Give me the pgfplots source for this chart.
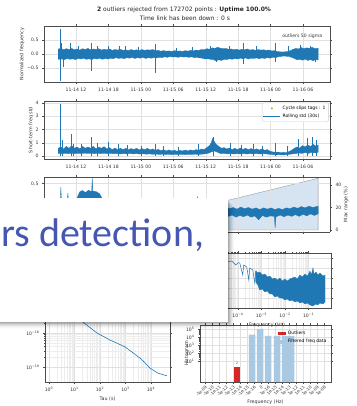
\documentclass[border=0pt]{standalone}
\usepackage{pgfplots}
\pgfplotsset{compat=1.18}
\usepackage{fontspec}
\setmainfont{DejaVu Sans}
\newfontfamily\calibri{Carlito}
\definecolor{tabblue}{HTML}{1F77B4}
\definecolor{tabred}{HTML}{D62728}
\definecolor{tabolive}{HTML}{BCBD22}
\definecolor{ltblue}{HTML}{A9C9E2}
\definecolor{fillblue}{HTML}{D5E4F0}
\definecolor{slideblue}{HTML}{4557B3}
\pgfplotsset{
  mpl/.style={scale only axis, axis line style={black!70, line width=0.4pt},
    tick style={black!70, line width=0.4pt}, tick align=outside,
    major tick length=2pt, minor tick length=1pt,
    grid style={black!12, line width=0.3pt},
    minor grid style={black!7, line width=0.25pt},
    ticklabel style={font=\fontsize{4.6}{5}\selectfont, text=black!80},
    label style={font=\fontsize{4.8}{5.5}\selectfont, text=black!80},
    /pgf/number format/assume math mode=true},
  timex/.style={xmin=6.08, xmax=59, xtick={12,18,24,30,36,42,48,54},
    xticklabels={11-14 12,11-14 18,11-15 00,11-15 06,11-15 12,11-15 18,11-16 00,11-16 06},
    xticklabel style={yshift=-1pt}}
}
\begin{document}
\begin{tikzpicture}[x=1pt,y=1pt]
\useasboundingbox (0pt,0pt) rectangle (356pt,406pt);
\node[font=\fontsize{6}{6.5}\selectfont, text=black!85] at (184pt,396pt) {\textbf{2} outliers rejected from 172702 points : \textbf{Uptime 100.0\%}};
\node[font=\fontsize{6}{6.5}\selectfont, text=black!85] at (185pt,387.5pt) {Time link has been down : 0 s};

% ---------- axis 1 : normalized frequency
\begin{axis}[mpl, timex, at={(44pt,380pt)}, anchor=north west, width=286pt, height=56pt,
  ymin=-1, ymax=1, ytick={-0.5,0,0.5}, yticklabels={−0.5,0.0,0.5}, grid=major,
  ylabel={Normalized frequency}, ylabel style={at={(axis description cs:-0.077,0.5)}, anchor=center}]
\addplot[fill=tabblue, draw=tabblue, line width=0.3pt] coordinates {
(8.7,0.17)(9.2,0.21)(9.7,0.15)(10.2,0.19)(10.7,0.16)(11.2,0.2)(11.7,0.15)(12.2,0.18)(12.7,0.14)(13.2,0.19)(13.7,0.16)(14.2,0.2)(14.7,0.15)(15.2,0.18)(15.7,0.16)(16.2,0.19)(16.7,0.14)(17.2,0.17)(17.7,0.15)(18.2,0.18)(18.7,0.13)(19.2,0.16)(19.7,0.14)(20.2,0.17)(20.7,0.13)(21.2,0.15)(21.7,0.12)(22.2,0.16)(22.7,0.13)(23.2,0.15)(23.7,0.12)(24.2,0.16)(24.7,0.13)(25.2,0.15)(25.7,0.14)(26.2,0.16)(26.7,0.12)(27.2,0.13)(27.7,0.1)(28.2,0.12)(28.7,0.1)(29.2,0.11)(29.7,0.09)(30.2,0.12)(30.7,0.1)(31.2,0.11)(31.7,0.09)(32.2,0.12)(32.7,0.1)(33.2,0.13)(33.7,0.11)(34.2,0.14)(34.7,0.13)(35.2,0.16)(35.7,0.15)(36.2,0.19)(36.7,0.17)(37.2,0.22)(37.7,0.2)(38.2,0.24)(38.7,0.21)(39.2,0.19)(39.7,0.2)(40.2,0.17)(40.7,0.18)(41.2,0.15)(41.7,0.17)(42.2,0.14)(42.7,0.17)(43.2,0.15)(43.7,0.18)(44.2,0.14)(44.7,0.16)(45.2,0.13)(45.7,0.16)(46.2,0.14)(46.7,0.15)(47.2,0.13)(47.7,0.14)(48.2,0.11)(48.7,0.12)(49.2,0.09)(49.7,0.08)(50.2,0.07)(50.7,0.08)(51.2,0.09)(51.7,0.12)(52.2,0.17)(52.7,0.2)(53.2,0.18)(53.7,0.23)(54.2,0.19)(54.7,0.22)(55.2,0.2)(55.7,0.24)(56.2,0.19)(56.8,0.21)
(56.8,-0.22)(56.4,-0.19)(55.9,-0.24)(55.4,-0.2)(54.9,-0.23)(54.4,-0.18)(53.9,-0.22)(53.4,-0.19)(52.9,-0.21)(52.4,-0.16)(51.9,-0.12)(51.4,-0.09)(50.9,-0.08)(50.4,-0.07)(49.9,-0.09)(49.4,-0.1)(48.9,-0.13)(48.4,-0.12)(47.9,-0.15)(47.4,-0.13)(46.9,-0.16)(46.4,-0.14)(45.9,-0.17)(45.4,-0.14)(44.9,-0.16)(44.4,-0.15)(43.9,-0.18)(43.4,-0.14)(42.9,-0.17)(42.4,-0.15)(41.9,-0.18)(41.4,-0.16)(40.9,-0.19)(40.4,-0.17)(39.9,-0.2)(39.4,-0.19)(38.9,-0.23)(38.4,-0.21)(37.9,-0.24)(37.4,-0.2)(36.9,-0.19)(36.4,-0.17)(35.9,-0.18)(35.4,-0.15)(34.9,-0.14)(34.4,-0.12)(33.9,-0.13)(33.4,-0.1)(32.9,-0.12)(32.4,-0.1)(31.9,-0.11)(31.4,-0.09)(30.9,-0.12)(30.4,-0.1)(29.9,-0.11)(29.4,-0.09)(28.9,-0.12)(28.4,-0.1)(27.9,-0.13)(27.4,-0.12)(26.9,-0.14)(26.4,-0.13)(25.9,-0.15)(25.4,-0.13)(24.9,-0.16)(24.4,-0.12)(23.9,-0.15)(23.4,-0.13)(22.9,-0.16)(22.4,-0.12)(21.9,-0.15)(21.4,-0.13)(20.9,-0.17)(20.4,-0.14)(19.9,-0.16)(19.4,-0.13)(18.9,-0.17)(18.4,-0.15)(17.9,-0.18)(17.4,-0.16)(16.9,-0.19)(16.4,-0.15)(15.9,-0.18)(15.4,-0.16)(14.9,-0.2)(14.4,-0.17)(13.9,-0.19)(13.4,-0.15)(12.9,-0.18)(12.4,-0.16)(11.9,-0.2)(11.4,-0.17)(10.9,-0.19)(10.4,-0.16)(9.9,-0.2)(9.4,-0.18)(8.7,-0.19)} -- cycle;
\addplot[ycomb, tabblue, line width=0.5pt, mark=none] coordinates {
(9.04,0.9)(9.1,-0.97)(9.3,0.4)(9.6,-0.45)(10.9,0.38)(12.5,0.3)(14.8,0.38)(14.9,-0.6)(16.0,0.28)(18.0,0.3)(20.0,0.3)(21.1,0.27)(23.5,0.25)(26.6,0.36)(26.7,-0.68)(30.6,0.22)(33.5,0.24)(36.8,0.3)(38.0,-0.3)(40.3,0.3)(42.9,0.38)(43.0,-0.35)(45.3,0.3)(48.8,0.4)(48.9,-0.28)(51.3,0.3)(53.5,0.32)(55.4,0.3)(56.2,-0.3)};
\node[anchor=north east, font=\fontsize{4.6}{5}\selectfont, text=black!80] at (rel axis cs:0.985,0.92) {outliers 50 sigma};
\node[anchor=south west, inner sep=0.5pt, font=\fontsize{4.6}{5}\selectfont, text=black!80] at (rel axis cs:0,1) {1e−14};
\end{axis}

% ---------- axis 2 : short-term std
\begin{axis}[mpl, timex, at={(44pt,305pt)}, anchor=north west, width=286pt, height=58pt,
  ymin=-0.2, ymax=4.13, ytick={0,1,2,3,4}, grid=major,
  ylabel={Short-term freq std}, ylabel style={at={(axis description cs:-0.045,0.5)}, anchor=center},
  legend style={at={(0.995,0.97)}, anchor=north east, font=\fontsize{4.5}{5}\selectfont, draw=black!20, rounded corners=1pt, inner sep=1pt, row sep=-1pt},
  legend cell align=left]
\addlegendimage{only marks, mark=*, mark size=0.9pt, tabolive}
\addlegendentry{Cycle slips tags : 1}
\addlegendimage{tabblue, line width=0.6pt}
\addlegendentry{Rolling std (30s)}
\addplot[forget plot, fill=tabblue, draw=tabblue, line width=0.3pt] coordinates {
(8.7,0.6)(9.2,0.7)(9.7,0.55)(10.2,0.75)(10.7,0.6)(11.2,0.8)(11.7,0.6)(12.2,0.7)(12.7,0.55)(13.2,0.75)(13.7,0.6)(14.2,0.7)(14.7,0.6)(15.2,0.75)(15.7,0.55)(16.2,0.7)(16.7,0.6)(17.2,0.72)(17.7,0.55)(18.2,0.65)(18.7,0.5)(19.2,0.62)(19.7,0.5)(20.2,0.6)(20.7,0.5)(21.2,0.6)(21.7,0.48)(22.2,0.58)(22.7,0.5)(23.2,0.6)(23.7,0.48)(24.2,0.58)(24.7,0.5)(25.2,0.6)(25.7,0.48)(26.2,0.55)(26.7,0.45)(27.2,0.52)(27.7,0.42)(28.2,0.5)(28.7,0.4)(29.2,0.48)(29.7,0.4)(30.2,0.46)(30.7,0.38)(31.2,0.45)(31.7,0.4)(32.2,0.47)(32.7,0.4)(33.2,0.48)(33.7,0.42)(34.2,0.5)(34.7,0.45)(35.2,0.55)(35.7,0.5)(36.2,0.65)(36.7,0.8)(37.0,1.0)(37.3,1.35)(37.6,1.1)(37.9,0.9)(38.4,0.75)(38.9,0.6)(39.4,0.65)(39.9,0.55)(40.4,0.62)(40.9,0.5)(41.4,0.6)(41.9,0.5)(42.4,0.62)(42.9,0.52)(43.4,0.6)(43.9,0.5)(44.4,0.58)(44.9,0.48)(45.4,0.56)(45.9,0.47)(46.4,0.55)(46.9,0.45)(47.4,0.5)(47.9,0.38)(48.4,0.33)(48.9,0.3)(49.4,0.32)(49.9,0.28)(50.4,0.3)(50.9,0.27)(51.4,0.35)(51.9,0.45)(52.4,0.6)(52.9,0.7)(53.4,0.62)(53.9,0.8)(54.4,0.7)(54.9,0.85)(55.4,0.72)(55.9,0.9)(56.4,0.75)(56.8,0.85)
(56.8,0.3)(56.2,0.25)(55.6,0.3)(55.0,0.22)(54.4,0.28)(53.8,0.22)(53.2,0.25)(52.6,0.2)(52.0,0.18)(51.4,0.14)(50.8,0.12)(50.2,0.1)(49.6,0.12)(49.0,0.11)(48.4,0.13)(47.8,0.15)(47.2,0.18)(46.6,0.2)(46.0,0.17)(45.4,0.21)(44.8,0.18)(44.2,0.2)(43.6,0.17)(43.0,0.21)(42.4,0.18)(41.8,0.2)(41.2,0.17)(40.6,0.21)(40.0,0.18)(39.4,0.22)(38.8,0.2)(38.2,0.3)(37.6,0.4)(37.0,0.32)(36.4,0.22)(35.8,0.18)(35.2,0.16)(34.6,0.14)(34.0,0.16)(33.4,0.13)(32.8,0.15)(32.2,0.12)(31.6,0.15)(31.0,0.13)(30.4,0.15)(29.8,0.12)(29.2,0.15)(28.6,0.13)(28.0,0.16)(27.4,0.14)(26.8,0.17)(26.2,0.15)(25.6,0.18)(25.0,0.16)(24.4,0.19)(23.8,0.17)(23.2,0.2)(22.6,0.18)(22.0,0.21)(21.4,0.18)(20.8,0.2)(20.2,0.18)(19.6,0.21)(19.0,0.19)(18.4,0.22)(17.8,0.2)(17.2,0.23)(16.6,0.2)(16.0,0.22)(15.4,0.2)(14.8,0.23)(14.2,0.21)(13.6,0.24)(13.0,0.2)(12.4,0.22)(11.8,0.2)(11.2,0.23)(10.6,0.2)(10.0,0.22)(9.4,0.2)(8.7,0.22)} -- cycle;
\addplot[forget plot, ycomb, tabblue, line width=0.5pt, mark=none] coordinates {
(9.04,3.9)(9.5,1.25)(11.07,1.65)(11.5,0.95)(13.0,0.9)(14.78,1.45)(15.89,1.0)(17.92,1.05)(19.77,0.95)(21.5,0.85)(24.0,0.8)(26.62,0.95)(28.1,0.8)(31.0,0.7)(34.57,0.9)(37.35,1.45)(40.5,1.0)(42.5,0.85)(44.75,0.9)(46.5,0.8)(48.82,1.0)(51.04,0.8)(53.07,1.3)(54.74,1.4)(55.66,1.45)(56.4,1.2)};
\node[anchor=south west, inner sep=0.5pt, font=\fontsize{4.6}{5}\selectfont, text=black!80] at (rel axis cs:0,1) {1e−15};
\end{axis}

% ---------- axis 3 : right (max range)
\begin{axis}[mpl, at={(44pt,229pt)}, anchor=north west, width=286pt, height=55pt,
  xmin=6.08, xmax=59, axis x line=none, axis y line*=right,
  ymin=-1.8, ymax=47.1, ytick={0,20,40},
  ylabel={Max range (\%)}, ylabel style={at={(axis description cs:1.056,0.5)}, anchor=center, rotate=0}]
\addplot[fill=fillblue, draw=black!45, line width=0.3pt] coordinates {(17.7,0)(56.8,46)(56.8,0)} -- cycle;
\end{axis}
% ---------- axis 3 : left
\begin{axis}[mpl, at={(44pt,229pt)}, anchor=north west, width=286pt, height=55pt,
  xmin=6.08, xmax=59, xtick={12,18,24,30,36,42,48,54}, xticklabels={},
  axis y line*=left, axis x line*=box,
  ymin=-0.65, ymax=0.65, ytick={0.5}, yticklabels={0.5}, grid=major]
\addplot[fill=tabblue, draw=tabblue, line width=0.3pt] coordinates {
(8.7,0.05)(9.1,0.06)(9.2,0.41)(9.3,0.08)(10.4,0.09)(10.5,0.27)(10.6,0.08)(12.0,0.1)(12.7,0.3)(13.2,0.33)(13.8,0.28)(14.3,0.34)(14.9,0.3)(15.0,0.63)(15.1,0.32)(15.8,0.3)(16.4,0.25)(17,0.1)(20,0.05)(25,0.0)(30,-0.02)(34.3,0.0)(34.5,0.18)(34.7,0.0)(38,-0.06)(39,-0.09)(39.7,-0.06)(40.4,-0.1)(41.1,-0.07)(41.8,-0.11)(42.5,-0.06)(43.2,-0.1)(43.9,-0.07)(44.6,-0.11)(45.3,-0.08)(46.0,-0.12)(46.7,-0.08)(47.4,-0.11)(48.1,-0.08)(48.8,-0.12)(49.5,-0.09)(50.2,-0.12)(50.9,-0.08)(51.6,-0.1)(52.3,-0.06)(53.0,-0.09)(53.7,-0.05)(54.4,-0.08)(55.1,-0.04)(55.8,-0.07)(56.8,-0.04)
(56.8,-0.22)(56.1,-0.26)(55.4,-0.22)(54.7,-0.27)(54.0,-0.23)(53.3,-0.28)(52.6,-0.24)(51.9,-0.28)(51.2,-0.25)(50.5,-0.29)(49.8,-0.25)(49.0,-0.29)(48.85,-0.55)(48.7,-0.28)(47.9,-0.27)(47.2,-0.3)(46.5,-0.26)(45.8,-0.36)(45.1,-0.27)(44.4,-0.3)(43.7,-0.25)(43.0,-0.29)(42.3,-0.26)(41.6,-0.3)(40.9,-0.25)(40.2,-0.28)(39.5,-0.24)(38.5,-0.27)(35,-0.25)(30,-0.22)(20,-0.2)(12,-0.15)(8.7,-0.12)} -- cycle;
\node[anchor=south west, inner sep=0.5pt, font=\fontsize{4.6}{5}\selectfont, text=black!80] at (rel axis cs:0,1) {1e−14};
\end{axis}

% ---------- axis 4 : PSD
\begin{axis}[mpl, at={(203pt,153pt)}, anchor=north west, width=128pt, height=55pt,
  xmode=log, xmin=3.31e-6, xmax=0.891, ymin=0, ymax=55,
  xtick={1e-5,1e-4,1e-3,1e-2,1e-1},
  xticklabels={10\textsuperscript{−5},10\textsuperscript{−4},10\textsuperscript{−3},10\textsuperscript{−2},10\textsuperscript{−1}},
  ytick={10,20,30,40,50}, yticklabels={},
  xmajorgrids, xminorgrids, ymajorgrids,
  xlabel={Frequency (Hz)}, xlabel style={yshift=2.5pt}]
\addplot[tabblue, line width=0.5pt] coordinates {
(5.8e-6,53)(8e-6,51)(1.2e-5,52)(1.6e-5,49)(2.2e-5,50)(3e-5,47)(3.69e-5,46)(5.46e-5,47)(8.07e-5,43)(9.84e-5,45)(1.2e-4,45)(1.6e-4,33)(1.77e-4,43)(2.38e-4,41)(2.89e-4,28)(3.19e-4,40)(4.28e-4,38)(5.2e-4,25)(5.74e-4,37)};
\addplot[fill=tabblue, draw=tabblue, line width=0.3pt] coordinates {
(5.74e-4,37)(7e-4,35)(8.49e-4,36)(1.1e-3,33)(1.38e-3,34)(1.8e-3,31)(2.26e-3,32)(2.9e-3,29)(3.69e-3,30)(4.7e-3,28)(6.02e-3,30)(7.7e-3,27)(9.83e-3,29)(1.25e-2,27)(1.6e-2,29)(2.05e-2,30)(2.62e-2,31)(3.3e-2,29)(4.28e-2,33)(5.4e-2,31)(6.98e-2,34)(8.9e-2,32)(0.114,37)(0.13,33)(0.153,40)(0.17,34)(0.205,36)(0.25,33)(0.303,35)(0.4,32)(0.5,33)
(0.5,6)(0.4,4)(0.303,5)(0.25,3)(0.205,4)(0.15,2)(0.114,3)(8.9e-2,5)(6.98e-2,4)(5.4e-2,6)(4.28e-2,5)(3.3e-2,7)(2.62e-2,6)(2e-2,8)(1.6e-2,7)(1.25e-2,9)(9.83e-3,8)(7.7e-3,10)(6.02e-3,10)(4.7e-3,12)(3.69e-3,11)(2.9e-3,14)(2.26e-3,14)(1.8e-3,17)(1.38e-3,16)(1.1e-3,19)(8.49e-4,18)(7e-4,23)(5.74e-4,26)} -- cycle;
\end{axis}

% ---------- axis 5 : Allan deviation
\begin{axis}[mpl, at={(45pt,153pt)}, anchor=north west, width=125pt, height=129pt,
  xmode=log, ymode=log, xmin=0.697, xmax=55600, ymin=3.63e-20, ymax=2.24e-16,
  xtick={1,10,100,1000,10000},
  xticklabels={10\textsuperscript{0},10\textsuperscript{1},10\textsuperscript{2},10\textsuperscript{3},10\textsuperscript{4}},
  ytick={1e-19,1e-18,1e-17,1e-16},
  yticklabels={10\textsuperscript{−19},10\textsuperscript{−18},10\textsuperscript{−17},10\textsuperscript{−16}},
  grid=both, xlabel={Tau (s)}, xlabel style={yshift=2.5pt}]
\addplot[tabblue, line width=0.6pt] coordinates {
(1,1.32e-17)(3,6.8e-18)(10,3.3e-18)(21.5,2.09e-18)(40,1.45e-18)(76,1e-18)(150,7.6e-19)(246,6.2e-19)(500,4.9e-19)(955,3.9e-19)(2000,2.6e-19)(3700,1.82e-19)(4880,1.51e-19)(9100,9.3e-20)(18700,6.6e-20)(42500,5.5e-20)};
\end{axis}

% ---------- axis 6 : histogram
\begin{axis}[mpl, at={(200pt,81pt)}, anchor=north west, width=131pt, height=57pt,
  ymode=log, log origin=infty, xmin=200, xmax=331, ymin=0.03, ymax=3e5,
  ytick={10,100,1000,10000,100000},
  yticklabels={10\textsuperscript{1},10\textsuperscript{2},10\textsuperscript{3},10\textsuperscript{4},10\textsuperscript{5}},
  xtick={205,212,219,226,233,240,247,254,261,268,275,282,289,296,303,310,317,324},
  xticklabels={-1e-09,-1e-10,-1e-11,-1e-12,-1e-13,-1e-14,-1e-15,-1e-16,0,1e-16,1e-15,1e-14,1e-13,1e-12,1e-11,1e-10,1e-09,1e-08},
  xticklabel style={rotate=45, anchor=north east, font=\fontsize{4.2}{4.5}\selectfont, inner sep=0.6pt},
  grid=major, ylabel={Histogram}, ylabel style={at={(axis description cs:-0.1,0.5)}, anchor=center},
  xlabel={Frequency (Hz)}, xlabel style={yshift=2pt},
  legend style={at={(0.99,0.95)}, anchor=north east, font=\fontsize{4.5}{5}\selectfont, draw=none, fill=none, inner sep=1pt, row sep=-0.5pt},
  legend cell align=left,
  legend image code/.code={\fill[#1, draw=none] (0pt,-1.6pt) rectangle (8pt,1.6pt);}]
\addplot[ybar, bar width=5.5pt, fill=tabred, draw=none] coordinates {(237,2)};
\addlegendentry{Outliers}
\addplot[ybar, bar width=6.5pt, fill=ltblue, draw=none] coordinates {(252,2e4)(260,1e5)(268,1.4e4)(277,1.4e4)(285,1.4e4)(291,1.4e4)};
\addlegendentry{Filtered freq data}
\node[font=\fontsize{3.5}{4}\selectfont, text=tabred] at (axis cs:237,6) {2};
\end{axis}

% ---------- overlay slide box
\foreach \d/\o in {1/0.12,2/0.09,3/0.07,4/0.05,5/0.035,6/0.02,7/0.01}
  \fill[black, opacity=\o] (-2pt,84pt-\d pt) rectangle (228pt+\d pt,206pt-\d pt);
\fill[white] (-2pt,84pt) rectangle (228pt,208pt);
\node[anchor=base west, inner sep=0, text=slideblue, font=\calibri\fontsize{40}{42}\selectfont] at (1pt,159pt) {rs detection,};
\end{tikzpicture}
\end{document}
